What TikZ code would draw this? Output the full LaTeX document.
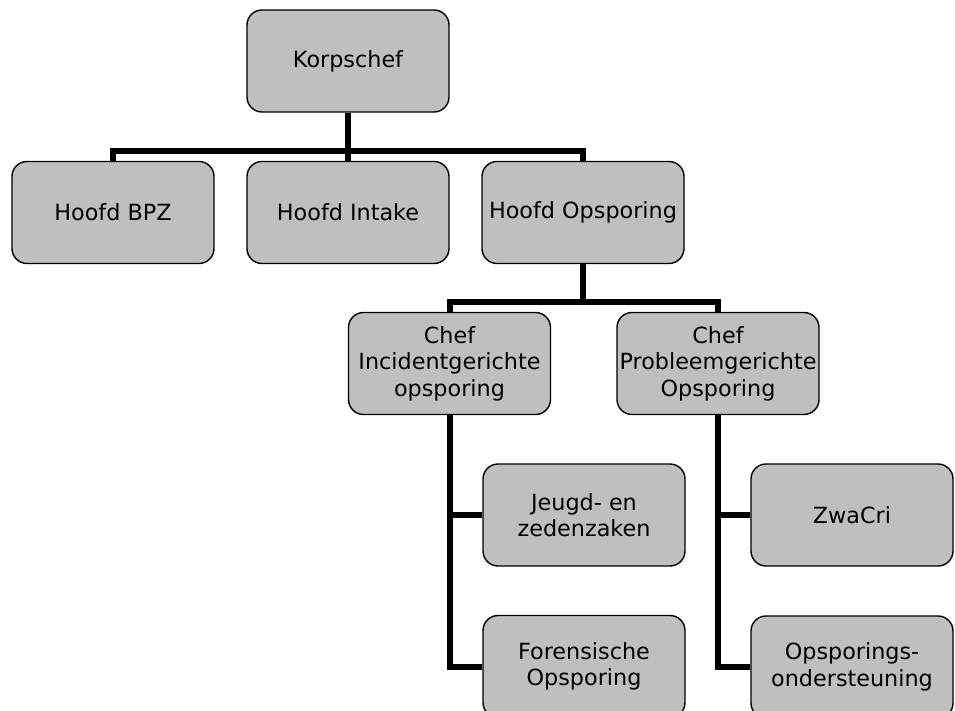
\documentclass[tikz,border=0pt]{standalone}
\usepackage{fontspec}
\setmainfont{DejaVu Sans}
\usepackage{tikz}
\usetikzlibrary{calc,positioning}

\begin{document}
\begin{tikzpicture}[x=1pt, y=-1pt]
\tikzstyle{box}=[rectangle, rounded corners=15pt, draw, line width=1.4pt, fill=black!25,
                        inner sep=0pt, minimum width=202pt, minimum height=102pt, align=center,
                        font=\fontsize{22.3}{26.5}\selectfont]
 \tikzstyle{con}=[line width=6pt, line join=miter]
\clip (0,0) rectangle (955,711);
\fill[white] (0,0) rectangle (955,711);
\node[box] (KS) at (348,61) {Korpschef};
\node[box] (BPZ) at (113,212.5) {Hoofd BPZ};
\node[box] (IN) at (348,212.5) {Hoofd Intake};
\node[box] (OP) at (583,212.5) {Hoofd Opsporing};
\node[box] (CI) at (449.5,363.5) {Chef\\Incidentgerichte\\opsporing};
\node[box] (CP) at (718,363.5) {Chef\\Probleemgerichte\\Opsporing};
\node[box] (JZ) at (584,515) {Jeugd- en\\zedenzaken};
\node[box] (FO) at (584,666.5) {Forensische\\Opsporing};
\node[box] (ZC) at (852,515) {ZwaCri};
\node[box] (OO) at (852,667) {Opsporings-\\ondersteuning};
% junctions of the tree
\coordinate (J1) at (348,151);
\coordinate (J2) at (583,302);
\draw[con] (KS.south) -- (J1);
\draw[con] (BPZ.north) |- (J1) -| (OP.north);
\draw[con] (J1) -- (IN.north);
\draw[con] (OP.south) -- (J2);
\draw[con] (CI.north) |- (J2) -| (CP.north);
\draw[con] (CI.south) |- (FO.west);
\draw[con] (CI.south |- JZ.west) -- (JZ.west);
\draw[con] (CP.south) |- (OO.west);
\draw[con] (CP.south |- ZC.west) -- (ZC.west);
\end{tikzpicture}
\end{document}
